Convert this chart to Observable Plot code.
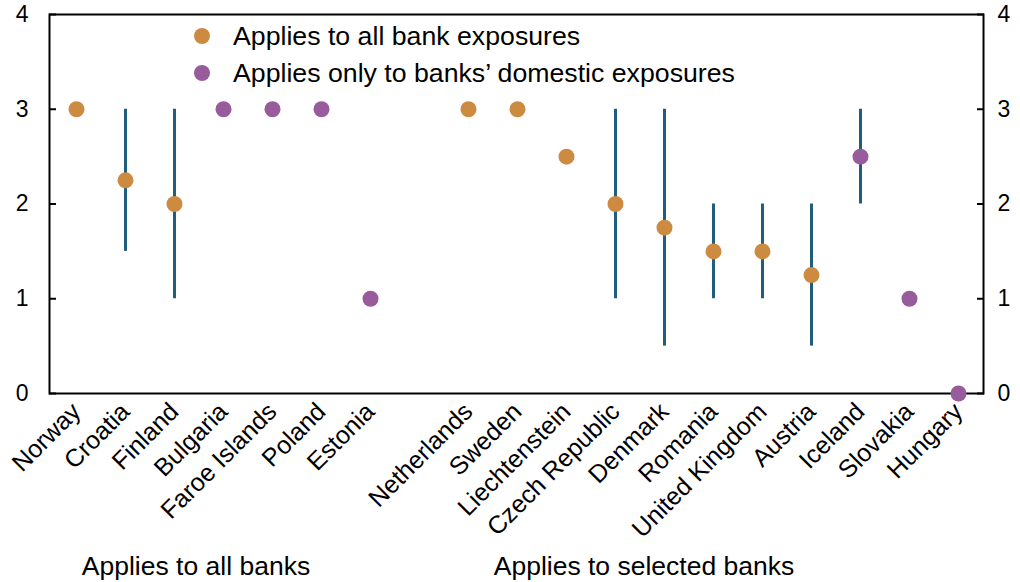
<!DOCTYPE html>
<html>
<head>
<meta charset="utf-8">
<script src="https://cdn.jsdelivr.net/npm/d3@7"></script>
<script src="https://cdn.jsdelivr.net/npm/@observablehq/plot@0.6"></script>
<style>
  html, body { margin: 0; padding: 0; background: #fff; }
  #wrap { position: relative; width: 1020px; height: 582px; font-family: "Liberation Sans", Arial, sans-serif; color: #000; }
  .legend { position: absolute; left: 194px; font-size: 26.7px; display: flex; align-items: center; white-space: nowrap; height: 30px; }
  .legend .sw { width: 16px; height: 16px; border-radius: 50%; display: inline-block; margin-right: 23px; }
  .group { position: absolute; top: 551px; font-size: 26.5px; line-height: 30px; white-space: nowrap; transform: translateX(-50%); }
</style>
</head>
<body>
<div id="wrap"></div>
<script>
const countries = ["Norway","Croatia","Finland","Bulgaria","Faroe Islands","Poland","Estonia","",
  "Netherlands","Sweden","Liechtenstein","Czech Republic","Denmark","Romania","United Kingdom","Austria","Iceland","Slovakia","Hungary"];
const values = [3, 2.25, 2, 3, 3, 3, 1, null, 3, 3, 2.5, 2, 1.75, 1.5, 1.5, 1.25, 2.5, 1, 0];
const lows  = [null, 1.5, 1, null, null, null, null, null, null, null, null, 1, 0.5, 1, 1, 0.5, 2, null, null];
const highs = [null, 3, 3, null, null, null, null, null, null, null, null, 3, 3, 2, 2, 2, 3, null, null];
const scope = ["all","all","all","domestic","domestic","domestic","domestic",null,
  "all","all","all","all","all","all","all","all","domestic","domestic","domestic"];
const yTicks = [0, 1, 2, 3, 4];
const legendLabels = ["Applies to all bank exposures", "Applies only to banks\u2019 domestic exposures"];
const groupLabels = ["Applies to all banks", "Applies to selected banks"];
const colors = {all: "#CD8B42", domestic: "#985B9C"};
const rangeColor = "#215D7D";

const rows = countries.map((c, i) => ({country: c, value: values[i], low: lows[i], high: highs[i], scope: scope[i]}));
const dots = rows.filter(d => d.value != null);
const ranges = rows.filter(d => d.low != null);

const chart = Plot.plot({
  width: 1020,
  height: 582,
  marginLeft: 49,
  marginRight: 37,
  marginTop: 14,
  marginBottom: 189,
  style: {fontFamily: "'Liberation Sans', Arial, sans-serif", fontSize: "23px", color: "#000", background: "#fff"},
  x: {type: "point", domain: countries, padding: 0, insetLeft: 25, insetRight: 23, label: null},
  y: {domain: [0, 4], label: null},
  marks: [
    Plot.frame({stroke: "#000", strokeWidth: 2}),
    Plot.axisY(yTicks, {anchor: "left", tickSize: -7, tickPadding: 28, tickFormat: d3.format("d"), strokeWidth: 2, fontSize: 23, label: null}),
    Plot.axisY(yTicks, {anchor: "right", tickSize: -7, tickPadding: 21, tickFormat: d3.format("d"), strokeWidth: 2, fontSize: 23, label: null}),
    Plot.axisX({tickSize: 0, tickPadding: 14, tickRotate: -45, fontSize: 25, label: null}),
    Plot.ruleX(ranges, {x: "country", y1: "low", y2: "high", stroke: rangeColor, strokeWidth: 3}),
    Plot.dot(dots, {x: "country", y: "value", r: 8, fill: d => colors[d.scope], stroke: "none"})
  ]
});

const wrap = document.getElementById("wrap");
wrap.appendChild(chart);

[["all", 36], ["domestic", 73]].forEach(([k, y], i) => {
  const el = document.createElement("div");
  el.className = "legend";
  el.style.top = (y - 15) + "px";
  el.innerHTML = `<span class="sw" style="background:${colors[k]}"></span><span>${legendLabels[i]}</span>`;
  wrap.appendChild(el);
});
[196, 644].forEach((cx, i) => {
  const el = document.createElement("div");
  el.className = "group";
  el.style.left = cx + "px";
  el.textContent = groupLabels[i];
  wrap.appendChild(el);
});
</script>
</body>
</html>
